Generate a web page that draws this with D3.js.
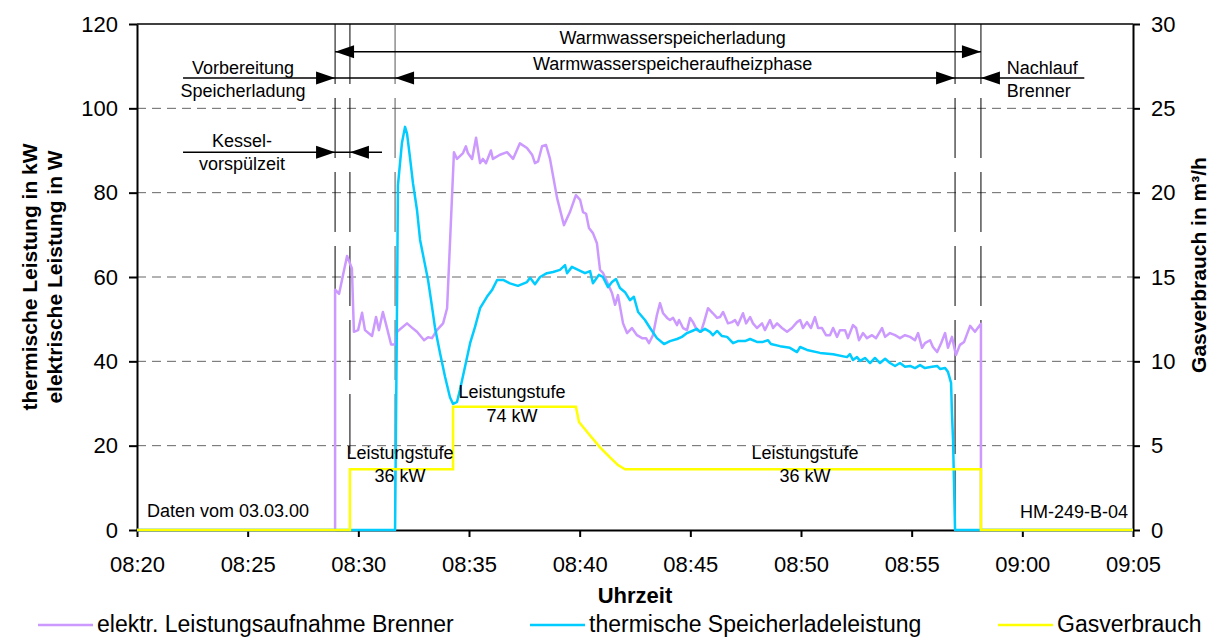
<!DOCTYPE html>
<html>
<head>
<meta charset="utf-8">
<script src="https://cdn.jsdelivr.net/npm/d3@7"></script>
<style>
  body { margin: 0; background: #fff; }
  svg { display: block; font-family: "Liberation Sans", Arial, sans-serif; }
</style>
</head>
<body>
<svg id="chart" width="1220" height="639"></svg>
<script>
// Measurement of 03.03.00, times in minutes after 08:20

// Electrical power draw of the burner [W]  -> [minute, value]
const elecSeries = [
  [0,0],[8.95,0],[8.95,57],[9.13,56],[9.49,65],[9.71,62],[9.80,47],[9.99,47.4],[10.17,51.5],[10.30,47.4],
  [10.62,46],[10.80,50.5],[10.93,47.4],[11.11,51.7],[11.29,48],[11.48,44],[11.66,44],[11.75,47],[12.20,49],
  [12.42,48],[12.65,47],[12.97,45],[13.15,45.7],[13.33,45.5],[13.55,47.4],[13.83,49],[14.01,52.6],[14.14,68],
  [14.32,89.6],[14.46,88],[14.73,89.4],[14.86,91],[14.95,89.4],[15.14,88],[15.32,93],[15.50,87],[15.63,88],
  [15.77,87],[15.99,90],[16.08,88],[16.40,89],[16.72,89.6],[16.99,88],[17.30,91.7],[17.62,90.6],[17.85,89],
  [17.98,87],[18.12,87.4],[18.30,91],[18.48,91.3],[18.66,88],[18.98,78.7],[19.29,72.3],[19.56,75.4],[19.83,79.4],
  [20.02,78.3],[20.15,75.4],[20.29,75],[20.42,71.6],[20.60,70.4],[20.78,68],[20.92,61.7],[21.05,61],[21.24,58.8],
  [21.46,56.2],[21.60,53.4],[21.73,55.7],[21.96,49],[22.14,46.7],[22.36,47.9],[22.59,46.2],[22.82,45.5],[23.00,45.5],
  [23.13,44.3],[23.31,46.2],[23.49,51],[23.63,53.8],[23.77,51.4],[23.95,50.3],[24.08,49.8],[24.22,50.3],[24.40,48.6],
  [24.49,49.8],[24.67,47.9],[24.85,47.4],[24.99,50.3],[25.12,49.3],[25.30,47.4],[25.48,47],[25.62,49.3],[25.80,52.6],
  [26.02,51.4],[26.21,50.3],[26.34,50.5],[26.48,51.7],[26.70,49],[26.88,49.3],[27.02,49.8],[27.15,48.6],[27.38,51.4],
  [27.52,49],[27.70,50.5],[27.83,49],[28.01,47.9],[28.24,49],[28.37,47.4],[28.60,49.8],[28.74,47.9],[28.92,49],
  [29.14,47.9],[29.37,47],[29.59,47.9],[29.82,49.3],[29.96,49.8],[30.09,47.9],[30.27,49.3],[30.45,47.9],[30.63,50.5],
  [30.77,47.9],[30.95,47.9],[31.13,46.2],[31.31,46.2],[31.45,47.9],[31.63,45.8],[31.76,47.4],[31.99,47.4],[32.12,45.5],
  [32.35,48.6],[32.49,47.9],[32.62,45],[32.80,46.7],[32.98,45.5],[33.21,46.2],[33.39,45.5],[33.66,47.9],[33.80,45.8],
  [34.02,46.7],[34.25,46.2],[34.47,45.5],[34.70,46.2],[34.93,45.8],[35.15,45],[35.29,46.7],[35.47,43.2],[35.60,44.3],
  [35.83,45],[35.96,43.4],[36.15,42.2],[36.33,44.3],[36.51,46.7],[36.64,43.2],[36.82,45.8],[37.00,41.5],[37.18,43.9],
  [37.37,44.6],[37.64,48.4],[37.86,47],[38.13,48.9],[38.13,0],[45,0]
];

// Thermal charging power of the hot-water tank [kW]  -> [minute, value]
const thermSeries = [
  [0,0],[11.66,0],[11.75,54.5],[11.79,81.8],[11.97,91.8],[12.11,95.6],[12.20,94],[12.33,88.5],[12.47,82.2],
  [12.65,75.9],[12.79,68.8],[12.97,64],[13.15,59.3],[13.33,52.9],[13.46,48.1],[13.69,42],[13.92,36.3],[14.14,31.5],
  [14.28,29.9],[14.46,30.4],[14.59,33.2],[14.82,38.7],[15.05,44.3],[15.27,48.1],[15.50,52.6],[15.81,55.3],[16.04,56.9],
  [16.27,59.3],[16.54,59.3],[16.85,58.5],[17.21,57.9],[17.62,58.8],[17.76,59.8],[17.98,58.3],[18.21,60],[18.52,60.9],
  [18.80,61.2],[19.11,61.7],[19.34,62.8],[19.43,60.9],[19.65,62.4],[19.93,61.7],[20.24,60.9],[20.47,61.4],[20.60,58.5],
  [20.87,60.5],[21.05,60],[21.28,57.6],[21.46,58.8],[21.64,59.5],[21.82,57.4],[22.05,56.4],[22.27,54.5],[22.45,55.3],
  [22.64,51.7],[22.95,49.8],[23.18,47.9],[23.49,45.5],[23.81,44.1],[24.08,44.8],[24.40,45.3],[24.62,45.8],[24.85,46.7],
  [25.08,47.2],[25.30,47.7],[25.44,47],[25.66,47.7],[25.89,47],[26.02,46.2],[26.21,47.2],[26.43,46],[26.66,45.8],
  [26.93,44.3],[27.15,44.8],[27.47,44.8],[27.70,45.3],[28.01,44.6],[28.28,44.6],[28.51,45],[28.64,44.1],[29.05,43.6],
  [29.50,43.2],[29.82,42.2],[29.96,43.4],[30.27,42.7],[30.86,42],[31.45,41.7],[32.08,41],[32.21,41.7],[32.35,40.3],
  [32.53,41],[32.67,40.1],[32.89,40.8],[33.12,39.6],[33.34,40.8],[33.57,39.6],[33.80,40.6],[34.02,39.6],[34.25,38.9],
  [34.47,39.6],[34.70,38.7],[34.93,38.9],[35.15,38.4],[35.38,39.1],[35.60,38.4],[35.92,38.7],[36.15,38.9],[36.28,38.2],
  [36.51,38.4],[36.64,37.5],[36.78,34.9],[36.82,27.7],[36.87,21.3],[36.96,0],[45,0]
];

// Gas consumption [m³/h]  -> [minute, value]
const gasSeries = [
  [0,0],[9.62,0],[9.62,3.6],[14.28,3.6],[14.28,7.3],[19.83,7.3],[19.97,6.4],[20.47,5.6],[20.92,4.9],
  [21.37,4.3],[21.73,3.85],[22.05,3.6],[38.13,3.6],[38.13,0],[45,0]
];

// Phase boundaries [minute]: burner on, boiler pre-purge end, tank charging start, heating end, burner off
const phaseMin = [8.95, 9.62, 11.66, 36.96, 38.13];

const leftTicks  = [0, 20, 40, 60, 80, 100, 120];
const rightTicks = [0, 5, 10, 15, 20, 25, 30];
const gridTicks  = [20, 40, 60, 80, 100];

const legendItems = [
  { label: "elektr. Leistungsaufnahme Brenner", color: "#CC99FF" },
  { label: "thermische Speicherladeleistung",  color: "#00CCFF" },
  { label: "Gasverbrauch",                     color: "#FFFF00" }
];

// ---------------------------------------------------------------
const svg = d3.select("#chart");
const M = { left: 137, right: 1133, top: 24, bottom: 530 };

const t0 = new Date(2000, 2, 3, 8, 20);
const toDate = mn => new Date(t0.getTime() + mn * 60000);

const x  = d3.scaleTime().domain([t0, toDate(45)]).range([M.left, M.right]);
const xm = mn => x(toDate(mn));
const yL = d3.scaleLinear().domain([0, 120]).range([M.bottom, M.top]);
const yR = d3.scaleLinear().domain([0, 30]).range([M.bottom, M.top]);

// horizontal grid
svg.append("g").selectAll("line").data(gridTicks).join("line")
  .attr("x1", M.left).attr("x2", M.right)
  .attr("y1", d => yL(d)).attr("y2", d => yL(d))
  .attr("stroke", "#666").attr("stroke-width", 1)
  .attr("stroke-dasharray", "9,6");

// frame top
svg.append("line")
  .attr("x1", M.left).attr("x2", M.right).attr("y1", M.top).attr("y2", M.top)
  .attr("stroke", "#000").attr("stroke-width", 1.5);

// phase boundary lines
svg.append("g").selectAll("line").data(phaseMin).join("line")
  .attr("x1", d => xm(d)).attr("x2", d => xm(d))
  .attr("y1", M.top).attr("y2", M.bottom)
  .attr("stroke", (d, i) => i === 2 ? "#555" : "#000").attr("stroke-width", 1)
  .attr("stroke-dasharray", "60,14");

// axes
const tickFont = "22px";
const gL = svg.append("g").attr("transform", `translate(${M.left},0)`)
  .call(d3.axisLeft(yL).tickValues(leftTicks).tickSize(8).tickSizeOuter(0).tickPadding(11));
const gR = svg.append("g").attr("transform", `translate(${M.right},0)`)
  .call(d3.axisRight(yR).tickValues(rightTicks).tickSize(7).tickSizeOuter(0).tickPadding(11));
const gB = svg.append("g").attr("transform", `translate(0,${M.bottom})`)
  .call(d3.axisBottom(x).ticks(d3.timeMinute.every(5)).tickFormat(d3.timeFormat("%H:%M"))
        .tickSize(7).tickSizeOuter(0).tickPadding(19));
[gL, gR, gB].forEach(g => {
  g.select(".domain").attr("stroke", "#000").attr("stroke-width", 2);
  g.selectAll(".tick line").attr("stroke", "#000").attr("stroke-width", 2);
  g.selectAll(".tick text").attr("font-size", tickFont).attr("fill", "#000")
    .attr("font-family", "Liberation Sans, Arial, sans-serif");
});

// series
const line = (scale) => d3.line().x(d => xm(d[0])).y(d => scale(d[1]));
svg.append("path").datum(elecSeries).attr("d", line(yL))
  .attr("fill", "none").attr("stroke", legendItems[0].color).attr("stroke-width", 2.5)
  .attr("stroke-linejoin", "round");
svg.append("path").datum(thermSeries).attr("d", line(yL))
  .attr("fill", "none").attr("stroke", legendItems[1].color).attr("stroke-width", 2.5)
  .attr("stroke-linejoin", "round");
svg.append("path").datum(gasSeries).attr("d", line(yR))
  .attr("fill", "none").attr("stroke", legendItems[2].color).attr("stroke-width", 2.5)
  .attr("stroke-linejoin", "miter");

// annotation arrows
const ann = svg.append("g");
const rowTop = 113.4, rowMid = 107.2, rowKessel = 89.6;
function hLine(m1, m2, v) {
  ann.append("line").attr("x1", xm(m1)).attr("x2", xm(m2))
    .attr("y1", yL(v)).attr("y2", yL(v)).attr("stroke", "#000").attr("stroke-width", 1.5);
}
function head(m, v, dir) { // dir +1 points right, -1 points left
  const tx = xm(m), ty = yL(v), L = 19, h = 6.5;
  ann.append("path")
    .attr("d", `M${tx},${ty}L${tx - dir * L},${ty - h}L${tx - dir * L},${ty + h}Z`)
    .attr("fill", "#000");
}
// Warmwasserspeicherladung
hLine(phaseMin[0], phaseMin[4], rowTop);
head(phaseMin[0], rowTop, -1); head(phaseMin[4], rowTop, 1);
// middle row
hLine(2.08, 42.8, rowMid);
head(phaseMin[0], rowMid, 1);
head(phaseMin[2], rowMid, -1);
head(phaseMin[3], rowMid, 1);
head(phaseMin[4], rowMid, -1);
// Kesselvorspülzeit
hLine(2.08, 11.07, rowKessel);
head(phaseMin[0], rowKessel, 1);
head(phaseMin[1], rowKessel, -1);

// annotation texts
function label(txt, xPos, yPos, anchor, size) {
  svg.append("text").attr("x", xPos).attr("y", yPos)
    .attr("text-anchor", anchor || "middle")
    .attr("font-size", size || "18px").attr("fill", "#000").text(txt);
}
label("Warmwasserspeicherladung", xm(24.2), yL(rowTop) - 8);
label("Warmwasserspeicheraufheizphase", xm(24.2), yL(rowMid) - 8);
label("Vorbereitung", xm(4.79), yL(rowMid) - 4);
label("Speicherladung", xm(4.79), yL(rowMid) + 19);
label("Kessel-", xm(4.74), yL(rowKessel) - 5);
label("vorspülzeit", xm(4.74), yL(rowKessel) + 18);
label("Nachlauf", xm(39.3), yL(rowMid) - 4, "start");
label("Brenner", xm(39.3), yL(rowMid) + 19, "start");

label("Leistungstufe", xm(11.88), yR(3.6) - 10);
label("36 kW", xm(11.88), yR(3.6) + 13);
label("Leistungstufe", xm(16.94), yR(7.3) - 9);
label("74 kW", xm(16.94), yR(7.3) + 15);
label("Leistungstufe", xm(30.18), yR(3.6) - 10);
label("36 kW", xm(30.18), yR(3.6) + 13);

label("Daten vom 03.03.00", M.left + 10, 517, "start");
label("HM-249-B-04", M.right - 5, 518, "end");

// axis titles
const titleSize = "21px";
svg.append("text").attr("transform", "translate(37,277) rotate(-90)")
  .attr("text-anchor", "middle").attr("font-size", titleSize).attr("font-weight", "bold")
  .text("thermische Leistung in kW");
svg.append("text").attr("transform", "translate(62,277) rotate(-90)")
  .attr("text-anchor", "middle").attr("font-size", titleSize).attr("font-weight", "bold")
  .text("elektrische Leistung in W");
svg.append("text").attr("transform", "translate(1206,265) rotate(-90)")
  .attr("text-anchor", "middle").attr("font-size", titleSize).attr("font-weight", "bold")
  .text("Gasverbrauch in m³/h");
svg.append("text").attr("x", 635).attr("y", 603)
  .attr("text-anchor", "middle").attr("font-size", "22px").attr("font-weight", "bold")
  .text("Uhrzeit");

// legend
const legendX = [38, 530, 998];
const lg = svg.append("g").selectAll("g").data(legendItems).join("g")
  .attr("transform", (d, i) => `translate(${legendX[i]},625)`);
lg.append("line").attr("x1", 0).attr("x2", 55).attr("y1", 0).attr("y2", 0)
  .attr("stroke", d => d.color).attr("stroke-width", 2.5);
lg.append("text").attr("x", 59).attr("y", 7)
  .attr("font-size", "23px").attr("fill", "#000").text(d => d.label);
</script>
</body>
</html>
